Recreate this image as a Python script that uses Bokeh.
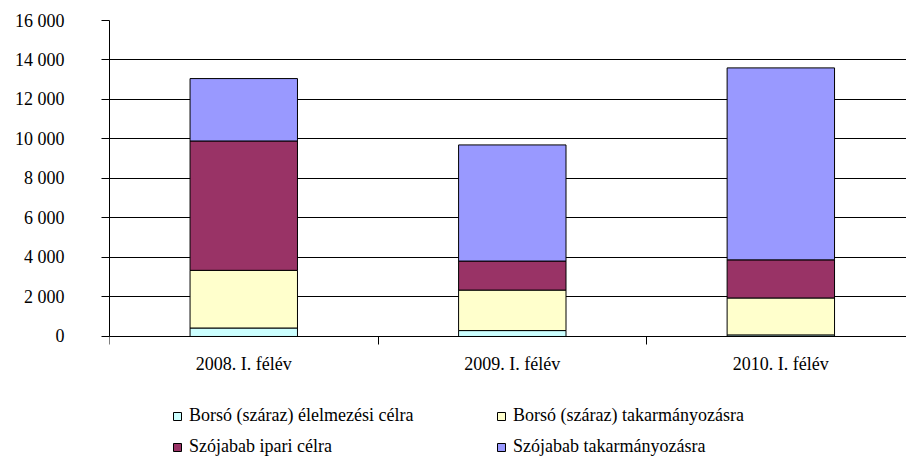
from bokeh.plotting import figure
from bokeh.models import ColumnDataSource, Range1d, FixedTicker, Legend, LegendItem
from bokeh.embed import file_html
from bokeh.resources import INLINE

# ---- data ----
categories = ["2008. I. félév", "2009. I. félév", "2010. I. félév"]
series_names = [
    "Borsó (száraz) élelmezési célra",
    "Borsó (száraz) takarmányozásra",
    "Szójabab ipari célra",
    "Szójabab takarmányozásra",
]
borso_elelmezes = [430, 300, 80]
borso_takarmany = [2920, 2050, 1870]
szoja_ipari = [6550, 1470, 1930]
szoja_takarmany = [3160, 5880, 9720]
colors = ["#CCFFFF", "#FFFFCC", "#993366", "#9999FF"]
y_ticks = [0, 2000, 4000, 6000, 8000, 10000, 12000, 14000, 16000]

FONT = "Liberation Serif"
FS = "18px"

x_pos = [i + 0.5 for i in range(len(categories))]
boundaries = [i for i in range(len(categories) + 1)]
stackers = ["s0", "s1", "s2", "s3"]
source = ColumnDataSource(dict(x=x_pos, s0=borso_elelmezes, s1=borso_takarmany,
                               s2=szoja_ipari, s3=szoja_takarmany))

# the frame reaches the bottom of the canvas, so that the legend can sit inside it;
# the value axis runs 0..16000 (y=0 at 336px, 16000 at 20px)
p = figure(width=906, height=457, output_backend="svg", toolbar_location=None,
           x_range=Range1d(0, 2.968), y_range=Range1d(-6127, 16000),
           min_border_left=109, min_border_right=0, min_border_top=20,
           min_border_bottom=0)
p.outline_line_color = None
p.background_fill_color = "white"
p.border_fill_color = "white"

renderers = p.vbar_stack(stackers, x="x", width=0.4, fill_color=colors,
                         line_color="black", line_width=1, source=source)

# y axis
p.yaxis.ticker = FixedTicker(ticks=y_ticks)
p.yaxis.bounds = (y_ticks[0], y_ticks[-1])
p.yaxis.major_label_overrides = {t: f"{t:,}".replace(",", " ") for t in y_ticks}
p.yaxis.major_label_text_font = FONT
p.yaxis.major_label_text_font_size = FS
p.yaxis.major_label_text_color = "black"
p.yaxis.major_tick_out = 8
p.yaxis.major_tick_in = 0
p.yaxis.major_tick_line_color = "black"
p.yaxis.minor_tick_line_color = None
p.yaxis.axis_line_color = "black"
p.yaxis.major_label_standoff = 37

# x axis, drawn at y = 0
p.xaxis.fixed_location = 0
p.xaxis.ticker = FixedTicker(ticks=x_pos, minor_ticks=boundaries)
p.xaxis.major_label_overrides = {x: c for x, c in zip(x_pos, categories)}
p.xaxis.major_label_text_font = FONT
p.xaxis.major_label_text_font_size = FS
p.xaxis.major_label_text_color = "black"
p.xaxis.major_tick_line_color = None
p.xaxis.major_tick_out = 0
p.xaxis.major_tick_in = 0
p.xaxis.minor_tick_line_color = "black"
p.xaxis.minor_tick_out = 8
p.xaxis.minor_tick_in = 0
p.xaxis.axis_line_color = "black"
p.xaxis.major_label_standoff = 10

# grid
p.xgrid.visible = False
p.ygrid.ticker = FixedTicker(ticks=y_ticks)
p.ygrid.grid_line_color = "black"
p.ygrid.grid_line_width = 1

items = [LegendItem(label=n, renderers=[r]) for n, r in zip(series_names, renderers)]
legend = Legend(items=items, location=(63, 0), orientation="horizontal",
                nrows=2, ncols=2, border_line_color=None, background_fill_alpha=0,
                padding=0, margin=0, spacing=10, label_standoff=7,
                glyph_width=10, glyph_height=10, label_width=297, label_height=20,
                label_text_font=FONT, label_text_font_size=FS,
                label_text_color="black")
p.add_layout(legend, "center")

open("out.html", "w").write(file_html(p, INLINE))
